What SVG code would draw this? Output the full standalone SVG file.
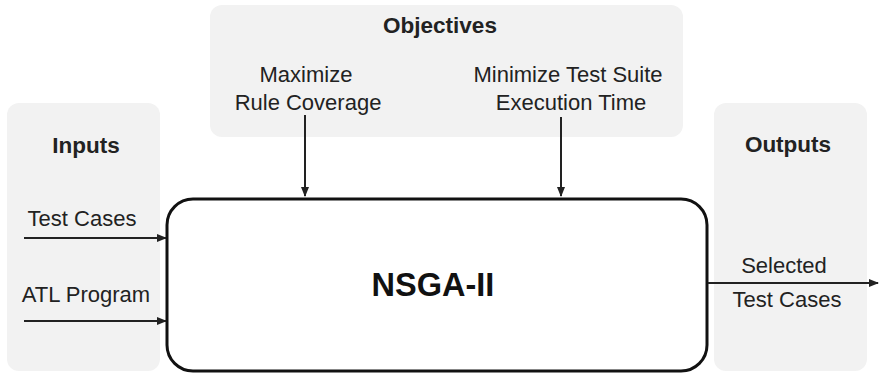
<svg xmlns="http://www.w3.org/2000/svg" width="879" height="374" viewBox="0 0 879 374">
<style>
.panel{fill:#f2f2f2;stroke:none}
.t{font-family:"Liberation Sans",Arial,sans-serif;font-size:22px;fill:#222;text-anchor:middle}
.b{font-weight:bold;font-size:22.5px}
.ln{stroke:#222;stroke-width:2;fill:none}
</style>
<defs>
<marker id="ah" markerWidth="10" markerHeight="10" refX="9" refY="5" orient="auto" markerUnits="userSpaceOnUse">
<path d="M0,1 L10,5 L0,9 z" fill="#222"/>
</marker>
</defs>
<rect width="879" height="374" fill="#fff"/>
<g id="inputs">
<rect class="panel" x="7" y="103" width="153" height="268" rx="12"/>
<text class="t b" x="86" y="153">Inputs</text>
<text class="t" x="82" y="226">Test Cases</text>
<text class="t" x="86" y="302">ATL Program</text>
</g>
<g id="objectives">
<rect class="panel" x="210" y="5" width="473" height="132" rx="12"/>
<text class="t b" x="440" y="33">Objectives</text>
<text class="t" x="306" y="82">Maximize</text>
<text class="t" x="308" y="110">Rule Coverage</text>
<text class="t" x="568" y="82">Minimize Test Suite</text>
<text class="t" x="571" y="110">Execution Time</text>
</g>
<g id="outputs">
<rect class="panel" x="714" y="103" width="153" height="268" rx="12"/>
<text class="t b" x="788" y="152">Outputs</text>
<text class="t" x="784" y="273">Selected</text>
<text class="t" x="787" y="307">Test Cases</text>
</g>
<g id="nsga">
<rect x="167" y="199" width="540" height="172" rx="26" fill="#fff" stroke="#111" stroke-width="3"/>
<text class="t b" x="433" y="296" style="font-size:32.5px;fill:#111">NSGA-II</text>
</g>
<g id="connectors">
<line class="ln" x1="24" y1="238" x2="166" y2="238" marker-end="url(#ah)"/>
<line class="ln" x1="24" y1="321" x2="166" y2="321" marker-end="url(#ah)"/>
<line class="ln" x1="305" y1="115" x2="305" y2="196" marker-end="url(#ah)"/>
<line class="ln" x1="561" y1="117" x2="561" y2="196" marker-end="url(#ah)"/>
<line class="ln" x1="708" y1="283" x2="878" y2="283" marker-end="url(#ah)"/>
</g>
</svg>
